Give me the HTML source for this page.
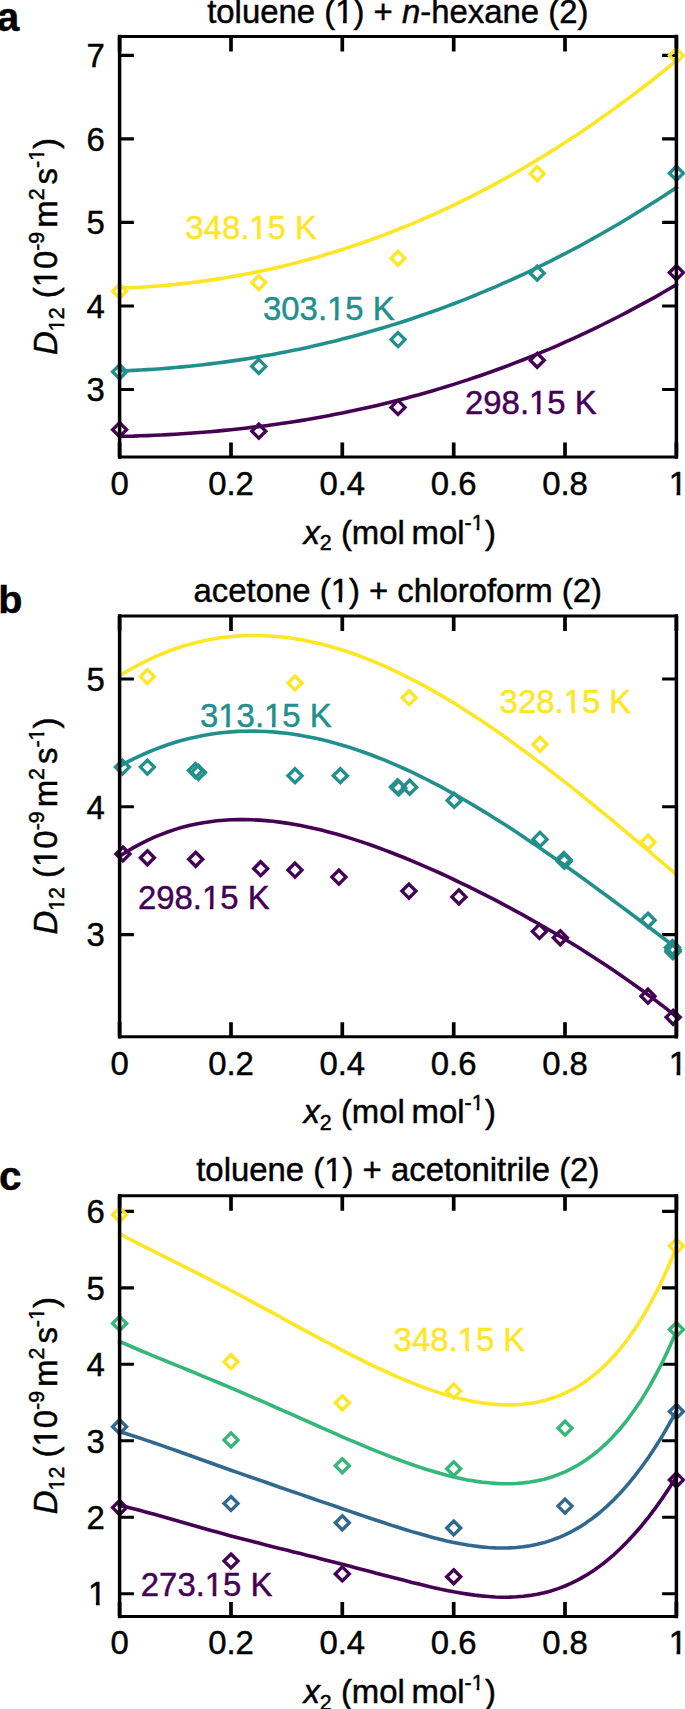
<!DOCTYPE html>
<html lang="en">
<head>
<meta charset="utf-8">
<title>Diffusion coefficients</title>
<style>
html,body{margin:0;padding:0;background:#fff}
svg{display:block}
text{font-family:"Liberation Sans", Arial, Helvetica, sans-serif;font-size:32.9px;fill:#000;stroke:#000;stroke-width:.45px}
.s{font-size:21.4px}
.i{font-style:italic}
.L{font-weight:bold;font-size:41.8px}
</style>
</head>
<body>
<svg width="685" height="1709" viewBox="0 0 685 1709">
<rect width="685" height="1709" fill="#fff"/>
<defs>
<clipPath id="kt11"><path clip-rule="evenodd" d="M-2000 -2000H4000V4000H-2000Z M335.83 19.90H343.08V25.40H335.83Z M346.67 19.90H353.59V25.40H346.67Z"/></clipPath>
<clipPath id="kt13"><path clip-rule="evenodd" d="M-2000 -2000H4000V4000H-2000Z M472.09 527.47H476.68V532.10H472.09Z M479.27 527.47H483.65V532.10H479.27Z"/></clipPath>
<clipPath id="kt14"><path clip-rule="evenodd" d="M-2000 -2000H4000V4000H-2000Z M24.19 3.97H28.79V8.60H24.19Z M31.37 3.97H35.75V8.60H31.37Z M68.30 -3.50H75.55V2.00H68.30Z M79.14 -3.50H86.06V2.00H79.14Z M194.58 -15.83H199.18V-11.20H194.58Z M201.76 -15.83H206.14V-11.20H201.76Z"/></clipPath>
<clipPath id="kt15"><path clip-rule="evenodd" d="M-2000 -2000H4000V4000H-2000Z M249.96 235.40H257.21V240.90H249.96Z M260.80 235.40H267.72V240.90H260.80Z"/></clipPath>
<clipPath id="kt16"><path clip-rule="evenodd" d="M-2000 -2000H4000V4000H-2000Z M327.66 316.10H334.91V321.60H327.66Z M338.50 316.10H345.42V321.60H338.50Z"/></clipPath>
<clipPath id="kt17"><path clip-rule="evenodd" d="M-2000 -2000H4000V4000H-2000Z M529.66 410.00H536.91V415.50H529.66Z M540.50 410.00H547.42V415.50H540.50Z"/></clipPath>
<clipPath id="kt26"><path clip-rule="evenodd" d="M-2000 -2000H4000V4000H-2000Z M331.29 598.50H338.54V604.00H331.29Z M342.14 598.50H349.06V604.00H342.14Z"/></clipPath>
<clipPath id="kt28"><path clip-rule="evenodd" d="M-2000 -2000H4000V4000H-2000Z M472.09 1107.37H476.68V1112.00H472.09Z M479.27 1107.37H483.65V1112.00H479.27Z"/></clipPath>
<clipPath id="kt29"><path clip-rule="evenodd" d="M-2000 -2000H4000V4000H-2000Z M24.19 3.97H28.79V8.60H24.19Z M31.37 3.97H35.75V8.60H31.37Z M68.30 -3.50H75.55V2.00H68.30Z M79.14 -3.50H86.06V2.00H79.14Z M194.58 -15.83H199.18V-11.20H194.58Z M201.76 -15.83H206.14V-11.20H201.76Z"/></clipPath>
<clipPath id="kt30"><path clip-rule="evenodd" d="M-2000 -2000H4000V4000H-2000Z M218.94 723.50H226.19V729.00H218.94Z M229.78 723.50H236.71V729.00H229.78Z M264.66 723.50H271.91V729.00H264.66Z M275.50 723.50H282.42V729.00H275.50Z"/></clipPath>
<clipPath id="kt31"><path clip-rule="evenodd" d="M-2000 -2000H4000V4000H-2000Z M564.26 709.90H571.51V715.40H564.26Z M575.10 709.90H582.02V715.40H575.10Z"/></clipPath>
<clipPath id="kt32"><path clip-rule="evenodd" d="M-2000 -2000H4000V4000H-2000Z M202.56 905.50H209.81V911.00H202.56Z M213.40 905.50H220.32V911.00H213.40Z"/></clipPath>
<clipPath id="kt43"><path clip-rule="evenodd" d="M-2000 -2000H4000V4000H-2000Z M324.88 1177.60H332.13V1183.10H324.88Z M335.72 1177.60H342.65V1183.10H335.72Z"/></clipPath>
<clipPath id="kt45"><path clip-rule="evenodd" d="M-2000 -2000H4000V4000H-2000Z M472.09 1686.97H476.68V1691.60H472.09Z M479.27 1686.97H483.65V1691.60H479.27Z"/></clipPath>
<clipPath id="kt46"><path clip-rule="evenodd" d="M-2000 -2000H4000V4000H-2000Z M24.19 3.97H28.79V8.60H24.19Z M31.37 3.97H35.75V8.60H31.37Z M68.30 -3.50H75.55V2.00H68.30Z M79.14 -3.50H86.06V2.00H79.14Z M194.58 -15.83H199.18V-11.20H194.58Z M201.76 -15.83H206.14V-11.20H201.76Z"/></clipPath>
<clipPath id="kt47"><path clip-rule="evenodd" d="M-2000 -2000H4000V4000H-2000Z M458.26 1347.70H465.51V1353.20H458.26Z M469.10 1347.70H476.02V1353.20H469.10Z"/></clipPath>
<clipPath id="kt48"><path clip-rule="evenodd" d="M-2000 -2000H4000V4000H-2000Z M205.46 1592.70H212.71V1598.20H205.46Z M216.30 1592.70H223.22V1598.20H216.30Z"/></clipPath>
</defs>
<g id="plot-a">
<path d="M119.6 36.3 v15.2 M119.6 456.7 v-14.3 M231.0 36.3 v15.2 M231.0 456.7 v-14.3 M342.3 36.3 v15.2 M342.3 456.7 v-14.3 M453.7 36.3 v15.2 M453.7 456.7 v-14.3 M565.0 36.3 v15.2 M565.0 456.7 v-14.3 M676.4 36.3 v15.2 M676.4 456.7 v-14.3" fill="none" stroke="#000" stroke-width="3.7"/>
<path d="M119.6 55.4 h14.3 M676.4 55.4 h-14.3 M119.6 138.9 h14.3 M676.4 138.9 h-14.3 M119.6 222.4 h14.3 M676.4 222.4 h-14.3 M119.6 306.0 h14.3 M676.4 306.0 h-14.3 M119.6 389.5 h14.3 M676.4 389.5 h-14.3" fill="none" stroke="#000" stroke-width="3.1"/>
<path d="M119.6 436.4 L126.6 436.2 L133.5 436.1 L140.5 435.8 L147.4 435.6 L154.4 435.3 L161.4 435.0 L168.3 434.6 L175.3 434.2 L182.2 433.8 L189.2 433.3 L196.2 432.8 L203.1 432.3 L210.1 431.7 L217.0 431.1 L224.0 430.4 L231.0 429.7 L237.9 429.0 L244.9 428.2 L251.8 427.4 L258.8 426.6 L265.8 425.7 L272.7 424.7 L279.7 423.8 L286.6 422.7 L293.6 421.7 L300.6 420.6 L307.5 419.4 L314.5 418.2 L321.4 417.0 L328.4 415.7 L335.4 414.3 L342.3 413.0 L349.3 411.5 L356.2 410.1 L363.2 408.6 L370.2 407.0 L377.1 405.4 L384.1 403.7 L391.0 402.0 L398.0 400.3 L405.0 398.4 L411.9 396.6 L418.9 394.7 L425.8 392.7 L432.8 390.7 L439.8 388.6 L446.7 386.5 L453.7 384.4 L460.6 382.1 L467.6 379.9 L474.6 377.5 L481.5 375.2 L488.5 372.7 L495.4 370.2 L502.4 367.7 L509.4 365.1 L516.3 362.4 L523.3 359.7 L530.2 356.9 L537.2 354.1 L544.2 351.2 L551.1 348.3 L558.1 345.3 L565.0 342.2 L572.0 339.1 L579.0 335.9 L585.9 332.6 L592.9 329.3 L599.8 326.0 L606.8 322.5 L613.8 319.0 L620.7 315.5 L627.7 311.9 L634.6 308.2 L641.6 304.4 L648.6 300.6 L655.5 296.8 L662.5 292.8 L669.4 288.8 L676.4 284.7" fill="none" stroke="#440154" stroke-width="3.6" stroke-linejoin="round" stroke-linecap="square"/>
<path d="M119.6 371.0 L126.6 370.8 L133.5 370.4 L140.5 370.0 L147.4 369.6 L154.4 369.2 L161.4 368.7 L168.3 368.1 L175.3 367.5 L182.2 366.9 L189.2 366.2 L196.2 365.5 L203.1 364.7 L210.1 363.9 L217.0 363.0 L224.0 362.1 L231.0 361.1 L237.9 360.1 L244.9 359.1 L251.8 358.0 L258.8 356.8 L265.8 355.6 L272.7 354.4 L279.7 353.1 L286.6 351.7 L293.6 350.3 L300.6 348.9 L307.5 347.4 L314.5 345.8 L321.4 344.2 L328.4 342.6 L335.4 340.9 L342.3 339.1 L349.3 337.3 L356.2 335.5 L363.2 333.6 L370.2 331.6 L377.1 329.6 L384.1 327.5 L391.0 325.4 L398.0 323.2 L405.0 321.0 L411.9 318.7 L418.9 316.3 L425.8 313.9 L432.8 311.5 L439.8 309.0 L446.7 306.4 L453.7 303.8 L460.6 301.1 L467.6 298.3 L474.6 295.5 L481.5 292.7 L488.5 289.7 L495.4 286.8 L502.4 283.7 L509.4 280.6 L516.3 277.5 L523.3 274.3 L530.2 271.0 L537.2 267.6 L544.2 264.2 L551.1 260.8 L558.1 257.2 L565.0 253.7 L572.0 250.0 L579.0 246.3 L585.9 242.5 L592.9 238.7 L599.8 234.8 L606.8 230.8 L613.8 226.8 L620.7 222.7 L627.7 218.5 L634.6 214.3 L641.6 210.0 L648.6 205.6 L655.5 201.2 L662.5 196.7 L669.4 192.2 L676.4 187.5" fill="none" stroke="#21908c" stroke-width="3.6" stroke-linejoin="round" stroke-linecap="square"/>
<path d="M119.6 288.1 L126.6 287.9 L133.5 287.6 L140.5 287.2 L147.4 286.7 L154.4 286.2 L161.4 285.7 L168.3 285.1 L175.3 284.4 L182.2 283.6 L189.2 282.9 L196.2 282.0 L203.1 281.1 L210.1 280.1 L217.0 279.1 L224.0 278.0 L231.0 276.8 L237.9 275.6 L244.9 274.3 L251.8 272.9 L258.8 271.5 L265.8 270.0 L272.7 268.5 L279.7 266.9 L286.6 265.2 L293.6 263.5 L300.6 261.7 L307.5 259.8 L314.5 257.9 L321.4 255.9 L328.4 253.8 L335.4 251.7 L342.3 249.5 L349.3 247.2 L356.2 244.9 L363.2 242.5 L370.2 240.0 L377.1 237.5 L384.1 234.9 L391.0 232.2 L398.0 229.5 L405.0 226.7 L411.9 223.8 L418.9 220.9 L425.8 217.9 L432.8 214.8 L439.8 211.6 L446.7 208.4 L453.7 205.1 L460.6 201.7 L467.6 198.3 L474.6 194.8 L481.5 191.2 L488.5 187.6 L495.4 183.8 L502.4 180.0 L509.4 176.2 L516.3 172.2 L523.3 168.2 L530.2 164.1 L537.2 159.9 L544.2 155.7 L551.1 151.4 L558.1 147.0 L565.0 142.5 L572.0 138.0 L579.0 133.4 L585.9 128.7 L592.9 123.9 L599.8 119.1 L606.8 114.1 L613.8 109.1 L620.7 104.0 L627.7 98.9 L634.6 93.7 L641.6 88.3 L648.6 83.0 L655.5 77.5 L662.5 71.9 L669.4 66.3 L676.4 60.6" fill="none" stroke="#fde725" stroke-width="3.6" stroke-linejoin="round" stroke-linecap="square"/>
<g fill="none" stroke="#440154" stroke-width="3.35">
<path d="M119.6 422.7 l7 7 l-7 7 l-7 -7 z"/>
<path d="M258.8 424.2 l7 7 l-7 7 l-7 -7 z"/>
<path d="M398.0 400.4 l7 7 l-7 7 l-7 -7 z"/>
<path d="M537.2 353.3 l7 7 l-7 7 l-7 -7 z"/>
<path d="M676.4 265.6 l7 7 l-7 7 l-7 -7 z"/>
</g>
<g fill="none" stroke="#21908c" stroke-width="3.35">
<path d="M119.6 364.8 l7 7 l-7 7 l-7 -7 z"/>
<path d="M258.8 359.4 l7 7 l-7 7 l-7 -7 z"/>
<path d="M398.0 332.6 l7 7 l-7 7 l-7 -7 z"/>
<path d="M537.2 266.2 l7 7 l-7 7 l-7 -7 z"/>
<path d="M676.4 166.2 l7 7 l-7 7 l-7 -7 z"/>
</g>
<g fill="none" stroke="#fde725" stroke-width="3.35">
<path d="M119.6 284.3 l7 7 l-7 7 l-7 -7 z"/>
<path d="M258.8 275.6 l7 7 l-7 7 l-7 -7 z"/>
<path d="M398.0 251.3 l7 7 l-7 7 l-7 -7 z"/>
<path d="M537.2 166.7 l7 7 l-7 7 l-7 -7 z"/>
<path d="M676.4 48.6 l7 7 l-7 7 l-7 -7 z"/>
</g>
<path d="M119.6 36.5 H676.4 M119.6 456.9 H676.4" fill="none" stroke="#000" stroke-width="3.0" stroke-linecap="square"/>
<path d="M119.6 36.5 V456.9 M676.4 36.5 V456.9" fill="none" stroke="#000" stroke-width="3.5" stroke-linecap="square"/>
<text id="t1" x="104.8" y="67.2" text-anchor="end">7</text>
<text id="t2" x="104.8" y="150.7" text-anchor="end">6</text>
<text id="t3" x="104.8" y="234.2" text-anchor="end">5</text>
<text id="t4" x="104.8" y="317.8" text-anchor="end">4</text>
<text id="t5" x="104.8" y="401.3" text-anchor="end">3</text>
<clipPath id="a_x1"><rect x="666.8" y="462.2" width="32.9" height="29.4"/><rect x="676.6" y="491.0" width="3.7" height="5.4"/></clipPath><text x="668.8" y="495.1" clip-path="url(#a_x1)">1</text>
<text id="t6" x="119.6" y="495.1" text-anchor="middle">0</text>
<text id="t7" x="231.0" y="495.1" text-anchor="middle">0.2</text>
<text id="t8" x="342.3" y="495.1" text-anchor="middle">0.4</text>
<text id="t9" x="453.7" y="495.1" text-anchor="middle">0.6</text>
<text id="t10" x="565.0" y="495.1" text-anchor="middle">0.8</text>
<text id="t11" clip-path="url(#kt11)" x="397.8" y="23.4" text-anchor="middle">toluene (1) + <tspan class="i">n</tspan>-hexane (2)</text>
<text id="t12" class="L" x="-3.2" y="30.6" style="font-size:40.5px">a</text>
<text id="t13" clip-path="url(#kt13)" x="303.4" y="543.5"><tspan class="i">x</tspan><tspan class="s" dy="6.6">2</tspan><tspan dy="-6.6"> (mol</tspan><tspan dx="6.7">mol</tspan><tspan class="s" dy="-13.4">-1</tspan><tspan dy="13.4" dx="1.5">)</tspan></text>
<text id="t14" clip-path="url(#kt14)" transform="translate(57.2 355.0) rotate(-90)"><tspan class="i">D</tspan><tspan class="s" dy="6.6">12</tspan><tspan dy="-6.6"> (10</tspan><tspan class="s" dy="-13.2">-9</tspan><tspan dy="13.2" dx="4">m</tspan><tspan class="s" dy="-13.2">2</tspan><tspan dy="13.2" dx="4">s</tspan><tspan class="s" dy="-13.2">-1</tspan><tspan dy="13.2">)</tspan></text>
<text id="t15" clip-path="url(#kt15)" x="185.3" y="238.9" style="fill:#fde725;stroke:#fde725">348.15 K</text>
<text id="t16" clip-path="url(#kt16)" x="263.0" y="319.6" style="fill:#21908c;stroke:#21908c">303.15 K</text>
<text id="t17" clip-path="url(#kt17)" x="465.0" y="413.5" style="fill:#440154;stroke:#440154">298.15 K</text>
</g>
<g id="plot-b">
<path d="M119.6 615.9 v15.2 M119.6 1036.6 v-14.3 M231.0 615.9 v15.2 M231.0 1036.6 v-14.3 M342.3 615.9 v15.2 M342.3 1036.6 v-14.3 M453.7 615.9 v15.2 M453.7 1036.6 v-14.3 M565.0 615.9 v15.2 M565.0 1036.6 v-14.3 M676.4 615.9 v15.2 M676.4 1036.6 v-14.3" fill="none" stroke="#000" stroke-width="3.7"/>
<path d="M119.6 679.0 h14.3 M676.4 679.0 h-14.3 M119.6 806.8 h14.3 M676.4 806.8 h-14.3 M119.6 934.6 h14.3 M676.4 934.6 h-14.3" fill="none" stroke="#000" stroke-width="3.1"/>
<path d="M119.6 856.2 L126.6 851.7 L133.5 847.6 L140.5 843.8 L147.4 840.3 L154.4 837.1 L161.4 834.3 L168.3 831.7 L175.3 829.4 L182.2 827.3 L189.2 825.5 L196.2 824.0 L203.1 822.7 L210.1 821.7 L217.0 820.8 L224.0 820.2 L231.0 819.8 L237.9 819.6 L244.9 819.6 L251.8 819.7 L258.8 820.1 L265.8 820.6 L272.7 821.3 L279.7 822.1 L286.6 823.1 L293.6 824.2 L300.6 825.5 L307.5 826.9 L314.5 828.5 L321.4 830.1 L328.4 831.9 L335.4 833.8 L342.3 835.8 L349.3 837.9 L356.2 840.1 L363.2 842.4 L370.2 844.8 L377.1 847.3 L384.1 849.9 L391.0 852.5 L398.0 855.2 L405.0 858.0 L411.9 860.9 L418.9 863.8 L425.8 866.8 L432.8 869.9 L439.8 873.0 L446.7 876.2 L453.7 879.5 L460.6 882.8 L467.6 886.2 L474.6 889.6 L481.5 893.1 L488.5 896.6 L495.4 900.2 L502.4 903.9 L509.4 907.6 L516.3 911.4 L523.3 915.2 L530.2 919.1 L537.2 923.0 L544.2 927.0 L551.1 931.0 L558.1 935.1 L565.0 939.3 L572.0 943.5 L579.0 947.8 L585.9 952.2 L592.9 956.7 L599.8 961.2 L606.8 965.8 L613.8 970.5 L620.7 975.2 L627.7 980.1 L634.6 985.0 L641.6 990.0 L648.6 995.2 L655.5 1000.4 L662.5 1005.7 L669.4 1011.2 L676.4 1016.8" fill="none" stroke="#440154" stroke-width="3.6" stroke-linejoin="round" stroke-linecap="square"/>
<path d="M119.6 766.2 L126.6 762.4 L133.5 758.9 L140.5 755.6 L147.4 752.5 L154.4 749.6 L161.4 747.0 L168.3 744.5 L175.3 742.3 L182.2 740.3 L189.2 738.5 L196.2 736.9 L203.1 735.5 L210.1 734.3 L217.0 733.3 L224.0 732.5 L231.0 731.9 L237.9 731.4 L244.9 731.2 L251.8 731.1 L258.8 731.2 L265.8 731.5 L272.7 731.9 L279.7 732.6 L286.6 733.3 L293.6 734.3 L300.6 735.4 L307.5 736.7 L314.5 738.1 L321.4 739.6 L328.4 741.3 L335.4 743.2 L342.3 745.2 L349.3 747.3 L356.2 749.6 L363.2 752.0 L370.2 754.5 L377.1 757.2 L384.1 759.9 L391.0 762.8 L398.0 765.9 L405.0 769.0 L411.9 772.2 L418.9 775.6 L425.8 779.0 L432.8 782.6 L439.8 786.2 L446.7 790.0 L453.7 793.8 L460.6 797.8 L467.6 801.8 L474.6 805.9 L481.5 810.1 L488.5 814.3 L495.4 818.7 L502.4 823.1 L509.4 827.6 L516.3 832.1 L523.3 836.7 L530.2 841.4 L537.2 846.1 L544.2 850.9 L551.1 855.7 L558.1 860.6 L565.0 865.5 L572.0 870.5 L579.0 875.5 L585.9 880.5 L592.9 885.6 L599.8 890.7 L606.8 895.8 L613.8 901.0 L620.7 906.1 L627.7 911.3 L634.6 916.5 L641.6 921.8 L648.6 927.0 L655.5 932.2 L662.5 937.5 L669.4 942.7 L676.4 947.9" fill="none" stroke="#21908c" stroke-width="3.6" stroke-linejoin="round" stroke-linecap="square"/>
<path d="M119.6 675.8 L126.6 671.5 L133.5 667.5 L140.5 663.8 L147.4 660.3 L154.4 657.1 L161.4 654.1 L168.3 651.3 L175.3 648.8 L182.2 646.5 L189.2 644.4 L196.2 642.5 L203.1 640.9 L210.1 639.5 L217.0 638.3 L224.0 637.3 L231.0 636.6 L237.9 636.0 L244.9 635.6 L251.8 635.5 L258.8 635.5 L265.8 635.7 L272.7 636.2 L279.7 636.8 L286.6 637.5 L293.6 638.5 L300.6 639.6 L307.5 641.0 L314.5 642.4 L321.4 644.1 L328.4 645.9 L335.4 647.9 L342.3 650.0 L349.3 652.3 L356.2 654.7 L363.2 657.3 L370.2 660.1 L377.1 662.9 L384.1 665.9 L391.0 669.1 L398.0 672.4 L405.0 675.8 L411.9 679.3 L418.9 683.0 L425.8 686.7 L432.8 690.6 L439.8 694.6 L446.7 698.7 L453.7 702.9 L460.6 707.2 L467.6 711.7 L474.6 716.2 L481.5 720.8 L488.5 725.5 L495.4 730.3 L502.4 735.1 L509.4 740.1 L516.3 745.1 L523.3 750.2 L530.2 755.4 L537.2 760.6 L544.2 765.9 L551.1 771.3 L558.1 776.7 L565.0 782.1 L572.0 787.7 L579.0 793.2 L585.9 798.9 L592.9 804.5 L599.8 810.2 L606.8 815.9 L613.8 821.7 L620.7 827.5 L627.7 833.3 L634.6 839.1 L641.6 845.0 L648.6 850.9 L655.5 856.8 L662.5 862.7 L669.4 868.6 L676.4 874.5" fill="none" stroke="#fde725" stroke-width="3.6" stroke-linejoin="round" stroke-linecap="square"/>
<g fill="none" stroke="#440154" stroke-width="3.35">
<path d="M122.9 847.0 l7 7 l-7 7 l-7 -7 z"/>
<path d="M147.4 850.8 l7 7 l-7 7 l-7 -7 z"/>
<path d="M195.7 852.3 l7 7 l-7 7 l-7 -7 z"/>
<path d="M260.7 861.7 l7 7 l-7 7 l-7 -7 z"/>
<path d="M295.0 863.1 l7 7 l-7 7 l-7 -7 z"/>
<path d="M338.9 870.1 l7 7 l-7 7 l-7 -7 z"/>
<path d="M408.9 884.1 l7 7 l-7 7 l-7 -7 z"/>
<path d="M458.9 889.9 l7 7 l-7 7 l-7 -7 z"/>
<path d="M539.4 924.4 l7 7 l-7 7 l-7 -7 z"/>
<path d="M560.3 930.8 l7 7 l-7 7 l-7 -7 z"/>
<path d="M648.0 989.2 l7 7 l-7 7 l-7 -7 z"/>
<path d="M673.1 1010.3 l7 7 l-7 7 l-7 -7 z"/>
</g>
<g fill="none" stroke="#21908c" stroke-width="3.35">
<path d="M122.4 760.1 l7 7 l-7 7 l-7 -7 z"/>
<path d="M147.4 760.1 l7 7 l-7 7 l-7 -7 z"/>
<path d="M195.4 763.6 l7 7 l-7 7 l-7 -7 z"/>
<path d="M198.4 765.4 l7 7 l-7 7 l-7 -7 z"/>
<path d="M295.0 768.7 l7 7 l-7 7 l-7 -7 z"/>
<path d="M340.3 768.7 l7 7 l-7 7 l-7 -7 z"/>
<path d="M397.5 779.9 l7 7 l-7 7 l-7 -7 z"/>
<path d="M398.7 781.0 l7 7 l-7 7 l-7 -7 z"/>
<path d="M409.7 780.2 l7 7 l-7 7 l-7 -7 z"/>
<path d="M454.2 793.4 l7 7 l-7 7 l-7 -7 z"/>
<path d="M540.0 832.4 l7 7 l-7 7 l-7 -7 z"/>
<path d="M563.8 852.5 l7 7 l-7 7 l-7 -7 z"/>
<path d="M564.3 854.2 l7 7 l-7 7 l-7 -7 z"/>
<path d="M648.0 913.3 l7 7 l-7 7 l-7 -7 z"/>
<path d="M672.4 940.5 l7 7 l-7 7 l-7 -7 z"/>
<path d="M673.2 943.1 l7 7 l-7 7 l-7 -7 z"/>
<path d="M672.9 944.7 l7 7 l-7 7 l-7 -7 z"/>
</g>
<g fill="none" stroke="#fde725" stroke-width="3.35">
<path d="M147.4 669.6 l7 7 l-7 7 l-7 -7 z"/>
<path d="M295.0 676.0 l7 7 l-7 7 l-7 -7 z"/>
<path d="M409.1 690.7 l7 7 l-7 7 l-7 -7 z"/>
<path d="M540.0 737.3 l7 7 l-7 7 l-7 -7 z"/>
<path d="M648.0 835.3 l7 7 l-7 7 l-7 -7 z"/>
</g>
<path d="M119.6 616.1 H676.4 M119.6 1036.8 H676.4" fill="none" stroke="#000" stroke-width="3.0" stroke-linecap="square"/>
<path d="M119.6 616.1 V1036.8 M676.4 616.1 V1036.8" fill="none" stroke="#000" stroke-width="3.5" stroke-linecap="square"/>
<text id="t18" x="104.8" y="690.8" text-anchor="end">5</text>
<text id="t19" x="104.8" y="818.6" text-anchor="end">4</text>
<text id="t20" x="104.8" y="946.4" text-anchor="end">3</text>
<clipPath id="b_x1"><rect x="666.8" y="1042.1" width="32.9" height="29.4"/><rect x="676.6" y="1070.9" width="3.7" height="5.4"/></clipPath><text x="668.8" y="1075.0" clip-path="url(#b_x1)">1</text>
<text id="t21" x="119.6" y="1075.0" text-anchor="middle">0</text>
<text id="t22" x="231.0" y="1075.0" text-anchor="middle">0.2</text>
<text id="t23" x="342.3" y="1075.0" text-anchor="middle">0.4</text>
<text id="t24" x="453.7" y="1075.0" text-anchor="middle">0.6</text>
<text id="t25" x="565.0" y="1075.0" text-anchor="middle">0.8</text>
<text id="t26" clip-path="url(#kt26)" x="397.8" y="602.0" text-anchor="middle">acetone (1) + chloroform (2)</text>
<text id="t27" class="L" x="-1.8" y="613.0" style="font-size:39.6px">b</text>
<text id="t28" clip-path="url(#kt28)" x="303.4" y="1123.4"><tspan class="i">x</tspan><tspan class="s" dy="6.6">2</tspan><tspan dy="-6.6"> (mol</tspan><tspan dx="6.7">mol</tspan><tspan class="s" dy="-13.4">-1</tspan><tspan dy="13.4" dx="1.5">)</tspan></text>
<text id="t29" clip-path="url(#kt29)" transform="translate(57.2 934.6) rotate(-90)"><tspan class="i">D</tspan><tspan class="s" dy="6.6">12</tspan><tspan dy="-6.6"> (10</tspan><tspan class="s" dy="-13.2">-9</tspan><tspan dy="13.2" dx="4">m</tspan><tspan class="s" dy="-13.2">2</tspan><tspan dy="13.2" dx="4">s</tspan><tspan class="s" dy="-13.2">-1</tspan><tspan dy="13.2">)</tspan></text>
<text id="t30" clip-path="url(#kt30)" x="200.0" y="727.0" style="fill:#21908c;stroke:#21908c">313.15 K</text>
<text id="t31" clip-path="url(#kt31)" x="499.6" y="713.4" style="fill:#fde725;stroke:#fde725">328.15 K</text>
<text id="t32" clip-path="url(#kt32)" x="137.9" y="909.0" style="fill:#440154;stroke:#440154">298.15 K</text>
</g>
<g id="plot-c">
<path d="M119.6 1195.5 v15.2 M119.6 1616.2 v-14.3 M231.0 1195.5 v15.2 M231.0 1616.2 v-14.3 M342.3 1195.5 v15.2 M342.3 1616.2 v-14.3 M453.7 1195.5 v15.2 M453.7 1616.2 v-14.3 M565.0 1195.5 v15.2 M565.0 1616.2 v-14.3 M676.4 1195.5 v15.2 M676.4 1616.2 v-14.3" fill="none" stroke="#000" stroke-width="3.7"/>
<path d="M119.6 1211.4 h14.3 M676.4 1211.4 h-14.3 M119.6 1287.9 h14.3 M676.4 1287.9 h-14.3 M119.6 1364.3 h14.3 M676.4 1364.3 h-14.3 M119.6 1440.8 h14.3 M676.4 1440.8 h-14.3 M119.6 1517.2 h14.3 M676.4 1517.2 h-14.3 M119.6 1593.7 h14.3 M676.4 1593.7 h-14.3" fill="none" stroke="#000" stroke-width="3.1"/>
<path d="M119.6 1505.4 L126.6 1507.0 L133.5 1508.7 L140.5 1510.5 L147.4 1512.4 L154.4 1514.3 L161.4 1516.3 L168.3 1518.3 L175.3 1520.3 L182.2 1522.3 L189.2 1524.3 L196.2 1526.3 L203.1 1528.3 L210.1 1530.2 L217.0 1532.1 L224.0 1534.0 L231.0 1535.9 L237.9 1537.7 L244.9 1539.6 L251.8 1541.3 L258.8 1543.1 L265.8 1544.9 L272.7 1546.7 L279.7 1548.4 L286.6 1550.1 L293.6 1551.9 L300.6 1553.6 L307.5 1555.4 L314.5 1557.1 L321.4 1558.9 L328.4 1560.7 L335.4 1562.4 L342.3 1564.2 L349.3 1566.0 L356.2 1567.9 L363.2 1569.7 L370.2 1571.5 L377.1 1573.4 L384.1 1575.2 L391.0 1577.0 L398.0 1578.8 L405.0 1580.6 L411.9 1582.4 L418.9 1584.1 L425.8 1585.8 L432.8 1587.4 L439.8 1589.0 L446.7 1590.4 L453.7 1591.8 L460.6 1593.0 L467.6 1594.1 L474.6 1595.1 L481.5 1595.9 L488.5 1596.5 L495.4 1597.0 L502.4 1597.2 L509.4 1597.1 L516.3 1596.8 L523.3 1596.3 L530.2 1595.4 L537.2 1594.2 L544.2 1592.7 L551.1 1590.9 L558.1 1588.6 L565.0 1586.0 L572.0 1582.9 L579.0 1579.4 L585.9 1575.4 L592.9 1571.0 L599.8 1566.1 L606.8 1560.7 L613.8 1554.8 L620.7 1548.3 L627.7 1541.3 L634.6 1533.8 L641.6 1525.7 L648.6 1517.1 L655.5 1507.9 L662.5 1498.1 L669.4 1487.8 L676.4 1476.9" fill="none" stroke="#440154" stroke-width="3.6" stroke-linejoin="round" stroke-linecap="square"/>
<path d="M119.6 1431.7 L126.6 1433.8 L133.5 1436.0 L140.5 1438.3 L147.4 1440.6 L154.4 1443.0 L161.4 1445.4 L168.3 1447.9 L175.3 1450.3 L182.2 1452.8 L189.2 1455.3 L196.2 1457.8 L203.1 1460.3 L210.1 1462.8 L217.0 1465.3 L224.0 1467.7 L231.0 1470.2 L237.9 1472.6 L244.9 1475.1 L251.8 1477.5 L258.8 1479.9 L265.8 1482.3 L272.7 1484.7 L279.7 1487.2 L286.6 1489.6 L293.6 1492.0 L300.6 1494.4 L307.5 1496.8 L314.5 1499.2 L321.4 1501.6 L328.4 1503.9 L335.4 1506.3 L342.3 1508.7 L349.3 1511.1 L356.2 1513.5 L363.2 1515.9 L370.2 1518.2 L377.1 1520.5 L384.1 1522.8 L391.0 1525.1 L398.0 1527.3 L405.0 1529.5 L411.9 1531.6 L418.9 1533.6 L425.8 1535.6 L432.8 1537.5 L439.8 1539.2 L446.7 1540.9 L453.7 1542.4 L460.6 1543.8 L467.6 1545.0 L474.6 1546.0 L481.5 1546.9 L488.5 1547.5 L495.4 1547.9 L502.4 1548.0 L509.4 1547.9 L516.3 1547.5 L523.3 1546.8 L530.2 1545.7 L537.2 1544.3 L544.2 1542.6 L551.1 1540.4 L558.1 1537.8 L565.0 1534.8 L572.0 1531.3 L579.0 1527.4 L585.9 1522.9 L592.9 1518.0 L599.8 1512.5 L606.8 1506.4 L613.8 1499.7 L620.7 1492.5 L627.7 1484.6 L634.6 1476.1 L641.6 1467.0 L648.6 1457.2 L655.5 1446.7 L662.5 1435.6 L669.4 1423.7 L676.4 1411.1" fill="none" stroke="#31688e" stroke-width="3.6" stroke-linejoin="round" stroke-linecap="square"/>
<path d="M119.6 1341.4 L126.6 1344.5 L133.5 1347.5 L140.5 1350.5 L147.4 1353.4 L154.4 1356.3 L161.4 1359.2 L168.3 1362.0 L175.3 1364.9 L182.2 1367.7 L189.2 1370.5 L196.2 1373.4 L203.1 1376.3 L210.1 1379.1 L217.0 1382.0 L224.0 1385.0 L231.0 1387.9 L237.9 1390.9 L244.9 1393.8 L251.8 1396.9 L258.8 1399.9 L265.8 1402.9 L272.7 1406.0 L279.7 1409.1 L286.6 1412.1 L293.6 1415.2 L300.6 1418.3 L307.5 1421.4 L314.5 1424.5 L321.4 1427.6 L328.4 1430.7 L335.4 1433.7 L342.3 1436.8 L349.3 1439.8 L356.2 1442.7 L363.2 1445.7 L370.2 1448.6 L377.1 1451.4 L384.1 1454.2 L391.0 1456.9 L398.0 1459.5 L405.0 1462.1 L411.9 1464.5 L418.9 1466.9 L425.8 1469.2 L432.8 1471.3 L439.8 1473.3 L446.7 1475.2 L453.7 1476.9 L460.6 1478.5 L467.6 1479.9 L474.6 1481.1 L481.5 1482.1 L488.5 1482.8 L495.4 1483.4 L502.4 1483.7 L509.4 1483.7 L516.3 1483.5 L523.3 1482.9 L530.2 1482.0 L537.2 1480.8 L544.2 1479.2 L551.1 1477.2 L558.1 1474.7 L565.0 1471.8 L572.0 1468.4 L579.0 1464.5 L585.9 1460.0 L592.9 1455.0 L599.8 1449.3 L606.8 1442.9 L613.8 1435.8 L620.7 1428.0 L627.7 1419.3 L634.6 1409.8 L641.6 1399.4 L648.6 1387.9 L655.5 1375.5 L662.5 1362.0 L669.4 1347.2 L676.4 1331.3" fill="none" stroke="#35b779" stroke-width="3.6" stroke-linejoin="round" stroke-linecap="square"/>
<path d="M119.6 1233.7 L126.6 1237.5 L133.5 1241.1 L140.5 1244.7 L147.4 1248.2 L154.4 1251.7 L161.4 1255.2 L168.3 1258.6 L175.3 1262.1 L182.2 1265.6 L189.2 1269.1 L196.2 1272.6 L203.1 1276.1 L210.1 1279.7 L217.0 1283.3 L224.0 1286.9 L231.0 1290.5 L237.9 1294.2 L244.9 1297.9 L251.8 1301.6 L258.8 1305.4 L265.8 1309.1 L272.7 1312.9 L279.7 1316.7 L286.6 1320.5 L293.6 1324.3 L300.6 1328.1 L307.5 1331.8 L314.5 1335.6 L321.4 1339.3 L328.4 1343.0 L335.4 1346.7 L342.3 1350.3 L349.3 1353.9 L356.2 1357.4 L363.2 1360.9 L370.2 1364.3 L377.1 1367.6 L384.1 1370.9 L391.0 1374.0 L398.0 1377.1 L405.0 1380.0 L411.9 1382.8 L418.9 1385.6 L425.8 1388.1 L432.8 1390.6 L439.8 1392.9 L446.7 1395.0 L453.7 1396.9 L460.6 1398.7 L467.6 1400.3 L474.6 1401.7 L481.5 1402.8 L488.5 1403.7 L495.4 1404.4 L502.4 1404.8 L509.4 1404.9 L516.3 1404.7 L523.3 1404.2 L530.2 1403.4 L537.2 1402.2 L544.2 1400.6 L551.1 1398.5 L558.1 1396.1 L565.0 1393.1 L572.0 1389.7 L579.0 1385.7 L585.9 1381.2 L592.9 1376.0 L599.8 1370.1 L606.8 1363.6 L613.8 1356.3 L620.7 1348.2 L627.7 1339.3 L634.6 1329.4 L641.6 1318.6 L648.6 1306.7 L655.5 1293.7 L662.5 1279.6 L669.4 1264.1 L676.4 1247.4" fill="none" stroke="#fde725" stroke-width="3.6" stroke-linejoin="round" stroke-linecap="square"/>
<g fill="none" stroke="#440154" stroke-width="3.35">
<path d="M119.6 1500.6 l7 7 l-7 7 l-7 -7 z"/>
<path d="M231.0 1554.0 l7 7 l-7 7 l-7 -7 z"/>
<path d="M342.3 1566.9 l7 7 l-7 7 l-7 -7 z"/>
<path d="M453.7 1569.8 l7 7 l-7 7 l-7 -7 z"/>
<path d="M676.4 1472.9 l7 7 l-7 7 l-7 -7 z"/>
</g>
<g fill="none" stroke="#31688e" stroke-width="3.35">
<path d="M119.6 1419.7 l7 7 l-7 7 l-7 -7 z"/>
<path d="M231.0 1496.5 l7 7 l-7 7 l-7 -7 z"/>
<path d="M342.3 1515.8 l7 7 l-7 7 l-7 -7 z"/>
<path d="M453.7 1521.0 l7 7 l-7 7 l-7 -7 z"/>
<path d="M565.0 1499.1 l7 7 l-7 7 l-7 -7 z"/>
<path d="M676.4 1404.5 l7 7 l-7 7 l-7 -7 z"/>
</g>
<g fill="none" stroke="#35b779" stroke-width="3.35">
<path d="M119.6 1316.4 l7 7 l-7 7 l-7 -7 z"/>
<path d="M231.0 1432.9 l7 7 l-7 7 l-7 -7 z"/>
<path d="M342.3 1458.8 l7 7 l-7 7 l-7 -7 z"/>
<path d="M453.7 1461.8 l7 7 l-7 7 l-7 -7 z"/>
<path d="M565.0 1421.2 l7 7 l-7 7 l-7 -7 z"/>
<path d="M676.4 1322.6 l7 7 l-7 7 l-7 -7 z"/>
</g>
<g fill="none" stroke="#fde725" stroke-width="3.35">
<path d="M119.6 1207.8 l7 7 l-7 7 l-7 -7 z"/>
<path d="M231.0 1354.7 l7 7 l-7 7 l-7 -7 z"/>
<path d="M342.3 1395.8 l7 7 l-7 7 l-7 -7 z"/>
<path d="M453.7 1384.1 l7 7 l-7 7 l-7 -7 z"/>
<path d="M676.4 1239.1 l7 7 l-7 7 l-7 -7 z"/>
</g>
<path d="M119.6 1195.7 H676.4 M119.6 1616.4 H676.4" fill="none" stroke="#000" stroke-width="3.0" stroke-linecap="square"/>
<path d="M119.6 1195.7 V1616.4 M676.4 1195.7 V1616.4" fill="none" stroke="#000" stroke-width="3.5" stroke-linecap="square"/>
<text id="t33" x="104.8" y="1223.2" text-anchor="end">6</text>
<text id="t34" x="104.8" y="1299.7" text-anchor="end">5</text>
<text id="t35" x="104.8" y="1376.1" text-anchor="end">4</text>
<text id="t36" x="104.8" y="1452.6" text-anchor="end">3</text>
<text id="t37" x="104.8" y="1529.0" text-anchor="end">2</text>
<clipPath id="c_y1"><rect x="86.0" y="1572.0" width="32.9" height="29.4"/><rect x="95.9" y="1600.8" width="3.7" height="5.4"/></clipPath><text x="88.0" y="1604.9" clip-path="url(#c_y1)">1</text>
<clipPath id="c_x1"><rect x="666.8" y="1621.2" width="32.9" height="29.4"/><rect x="676.6" y="1650.0" width="3.7" height="5.4"/></clipPath><text x="668.8" y="1654.1" clip-path="url(#c_x1)">1</text>
<text id="t38" x="119.6" y="1654.1" text-anchor="middle">0</text>
<text id="t39" x="231.0" y="1654.1" text-anchor="middle">0.2</text>
<text id="t40" x="342.3" y="1654.1" text-anchor="middle">0.4</text>
<text id="t41" x="453.7" y="1654.1" text-anchor="middle">0.6</text>
<text id="t42" x="565.0" y="1654.1" text-anchor="middle">0.8</text>
<text id="t43" clip-path="url(#kt43)" x="397.8" y="1181.1" text-anchor="middle">toluene (1) + acetonitrile (2)</text>
<text id="t44" class="L" x="-1.1" y="1190.1" style="font-size:40.5px">c</text>
<text id="t45" clip-path="url(#kt45)" x="303.4" y="1703.0"><tspan class="i">x</tspan><tspan class="s" dy="6.6">2</tspan><tspan dy="-6.6"> (mol</tspan><tspan dx="6.7">mol</tspan><tspan class="s" dy="-13.4">-1</tspan><tspan dy="13.4" dx="1.5">)</tspan></text>
<text id="t46" clip-path="url(#kt46)" transform="translate(57.2 1514.2) rotate(-90)"><tspan class="i">D</tspan><tspan class="s" dy="6.6">12</tspan><tspan dy="-6.6"> (10</tspan><tspan class="s" dy="-13.2">-9</tspan><tspan dy="13.2" dx="4">m</tspan><tspan class="s" dy="-13.2">2</tspan><tspan dy="13.2" dx="4">s</tspan><tspan class="s" dy="-13.2">-1</tspan><tspan dy="13.2">)</tspan></text>
<text id="t47" clip-path="url(#kt47)" x="393.6" y="1351.2" style="fill:#fde725;stroke:#fde725">348.15 K</text>
<text id="t48" clip-path="url(#kt48)" x="140.8" y="1596.2" style="fill:#440154;stroke:#440154">273.15 K</text>
</g>
</svg>
</body>
</html>
